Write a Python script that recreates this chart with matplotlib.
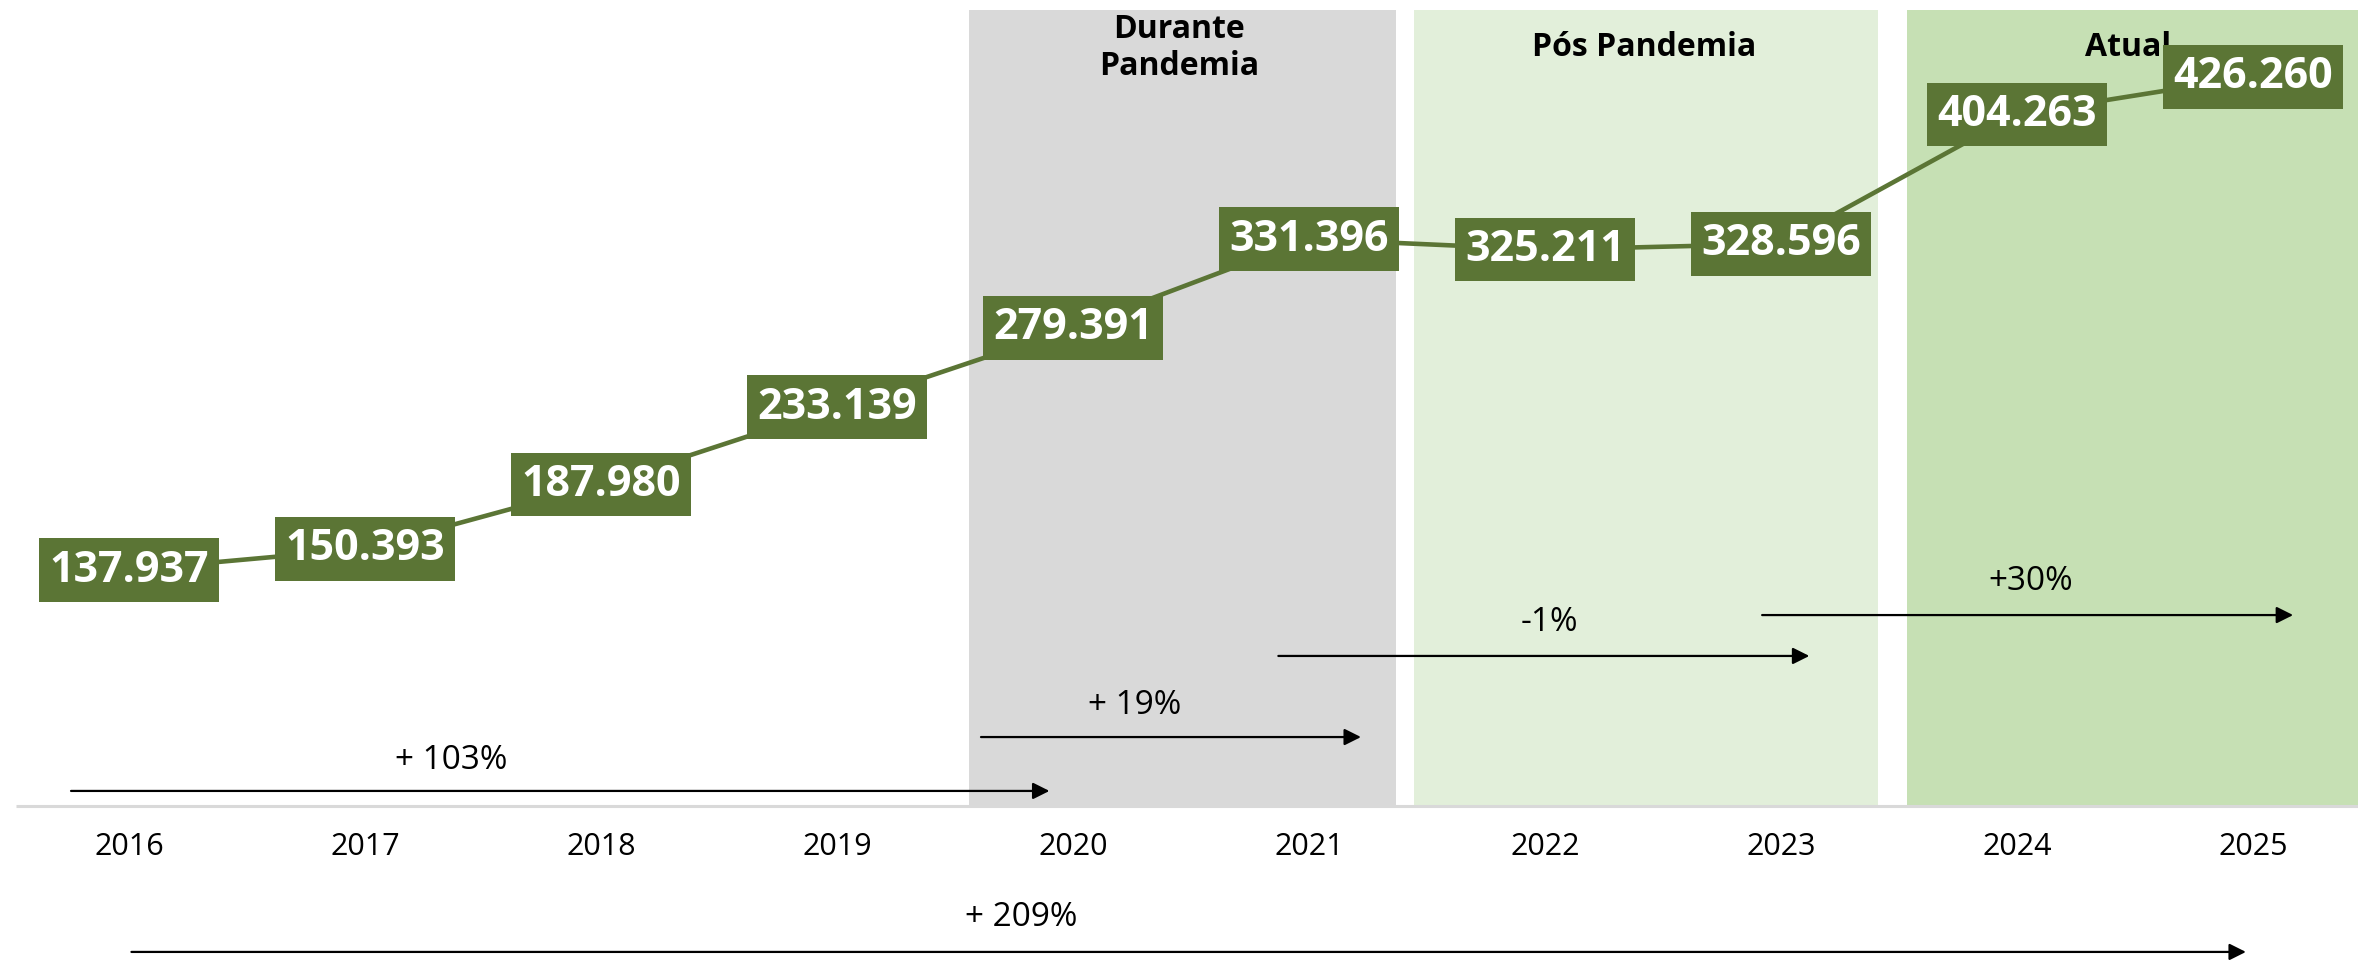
import matplotlib.pyplot as plt

# data
years = ["2016", "2017", "2018", "2019", "2020", "2021", "2022", "2023", "2024", "2025"]
values = [137.937, 150.393, 187.980, 233.139, 279.391, 331.396, 325.211, 328.596, 404.263, 426.260]
value_labels = ["137.937", "150.393", "187.980", "233.139", "279.391",
                "331.396", "325.211", "328.596", "404.263", "426.260"]
periods = ["Durante\nPandemia", "Pós Pandemia", "Atual"]
growth_labels = ["+ 103%", "+ 19%", "-1%", "+30%", "+ 209%"]

GREEN = "#5b7535"
FONT = ["Open Sans", "DejaVu Sans"]

fig = plt.figure(figsize=(23.58, 9.61), dpi=100)
ax = fig.add_axes([0, 0, 1, 1])
ax.set_xlim(-0.547, 9.445)
ax.set_ylim(-90.6, 471.1)
ax.axis("off")

x = list(range(len(years)))

# shaded period bands
bands = [(3.56, 5.37, "#d9d9d9"), (5.445, 7.41, "#e2efda"), (7.535, 9.5, "#c6e0b4")]
for x0, x1, c in bands:
    ax.fill_between([x0, x1], 0, 465, color=c, lw=0, zorder=0)

header_pos = [(4.45, 443), (6.42, 443.5), (8.47, 443.5)]
for (hx, hy), name in zip(header_pos, periods):
    ax.text(hx, hy, name, ha="center", va="center", fontsize=23, fontweight="bold",
            family=FONT, linespacing=1.15, zorder=2)

# baseline
ax.plot([-0.48, 9.445], [0, 0], color="#d9d9d9", lw=2.2, zorder=1, solid_capstyle="butt")

for xi, yr in zip(x, years):
    ax.text(xi, -24, yr, ha="center", va="center", fontsize=22, family=FONT,
            color="black")

# main line and value boxes
ax.plot(x, values, color=GREEN, lw=3.3, zorder=3)
for xi, v, lab in zip(x, values, value_labels):
    ax.text(xi, v, lab, ha="center", va="center", fontsize=31, fontweight="bold",
            family=FONT, color="white", zorder=4,
            bbox=dict(boxstyle="square,pad=0.24", fc=GREEN, ec="none"))

# growth arrows
arrows = [(-0.246, 3.90, 8.8), (3.61, 5.22, 40.3), (4.87, 7.12, 87.7),
          (6.92, 9.17, 111.6), (0.01, 8.97, -85.3)]
label_pos = [(1.364, 26.3), (4.26, 59.0), (6.02, 107.0), (8.06, 131.0), (3.78, -64.9)]
for (x0, x1, y), (lx, ly), lab in zip(arrows, label_pos, growth_labels):
    ax.annotate("", xy=(x1, y), xytext=(x0, y),
                arrowprops=dict(arrowstyle="-|>", color="black", lw=1.6,
                                mutation_scale=25, shrinkA=0, shrinkB=0), zorder=5)
    ax.text(lx, ly, lab, ha="center", va="center", fontsize=24, family=FONT,
            color="black")

fig.savefig("out.png", dpi=100)
